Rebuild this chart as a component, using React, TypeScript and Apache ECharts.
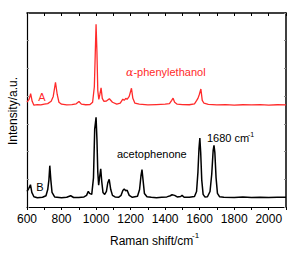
import React, { useEffect, useRef } from "react";
import * as echarts from "echarts";

// Raman shift (cm-1) and intensity (a.u., offset) for α-phenylethanol (A, red)
const alphaShift = [600, 612, 621, 630, 640, 660, 680, 700, 720, 740, 752, 765, 775, 785, 800, 830, 860, 885, 901, 915, 940, 965, 980, 990, 995, 1000, 1005, 1010, 1016, 1022, 1029, 1036, 1045, 1060, 1077, 1095, 1120, 1140, 1155, 1163, 1172, 1180, 1192, 1205, 1213, 1225, 1250, 1300, 1350, 1400, 1425, 1438, 1446, 1455, 1470, 1500, 1540, 1570, 1582, 1590, 1598, 1607, 1615, 1625, 1650, 1700, 1750, 1800, 1850, 1900, 1950, 2000, 2050, 2100];
const alphaIntensity = [54.0, 55.5, 58.4, 54.5, 52.5, 52.8, 52.6, 53.0, 53.3, 54.5, 57.0, 64.3, 58.0, 54.0, 53.0, 52.6, 52.8, 53.2, 54.4, 53.0, 52.7, 52.8, 54.0, 62.0, 78.0, 94.2, 80.0, 60.0, 55.5, 58.0, 61.4, 56.0, 54.5, 54.6, 55.8, 54.0, 53.0, 53.5, 55.6, 55.0, 56.0, 55.5, 57.0, 61.2, 56.0, 53.5, 53.0, 52.6, 52.8, 53.0, 53.3, 55.0, 56.1, 54.0, 53.0, 52.8, 52.7, 53.2, 54.8, 56.0, 58.0, 60.8, 55.0, 53.5, 52.9, 52.6, 52.8, 52.5, 52.7, 52.6, 52.8, 52.5, 52.7, 52.6];

// Acetophenone (B, black)
const acetoShift = [600, 610, 620, 628, 640, 660, 690, 710, 720, 727, 732, 738, 745, 760, 800, 830, 853, 870, 900, 930, 945, 955, 962, 975, 985, 992, 1000, 1005, 1010, 1015, 1020, 1027, 1033, 1040, 1050, 1060, 1068, 1076, 1085, 1095, 1110, 1130, 1145, 1155, 1163, 1172, 1180, 1192, 1210, 1240, 1252, 1260, 1266, 1272, 1280, 1295, 1320, 1350, 1380, 1410, 1430, 1440, 1455, 1470, 1490, 1498, 1510, 1540, 1570, 1582, 1590, 1596, 1601, 1606, 1612, 1620, 1630, 1645, 1660, 1670, 1678, 1683, 1688, 1695, 1703, 1715, 1740, 1800, 1850, 1900, 1950, 2000, 2050, 2100];
const acetoIntensity = [8.1, 9.5, 11.5, 7.5, 5.3, 4.8, 5.0, 5.8, 9.0, 14.0, 21.3, 14.0, 7.5, 5.2, 4.8, 5.0, 5.8, 4.9, 4.9, 5.2, 6.0, 8.1, 7.0, 6.5, 15.0, 40.0, 46.2, 35.0, 18.0, 11.2, 15.0, 19.7, 13.0, 7.5, 6.5, 8.0, 12.5, 14.3, 9.0, 6.0, 5.2, 5.0, 6.0, 8.5, 9.3, 8.4, 8.6, 6.0, 5.0, 5.5, 9.0, 16.0, 19.3, 14.0, 7.0, 5.3, 5.0, 4.8, 5.0, 5.2, 5.8, 6.3, 6.0, 5.2, 5.4, 6.0, 5.0, 5.0, 5.4, 8.0, 18.0, 30.0, 35.6, 28.0, 14.0, 6.5, 5.2, 5.3, 8.0, 17.0, 29.0, 31.8, 28.0, 15.0, 7.0, 5.3, 5.0, 4.9, 5.1, 4.9, 5.0, 4.9, 5.0, 5.0];

const xTickLabels = ["600", "800", "1000", "1200", "1400", "1600", "1800", "2000"];

const FONT = "Liberation Sans, Arial, sans-serif";
const RED = "#ff2a2a";

export default function App() {
  const ref = useRef<HTMLDivElement>(null);
  useEffect(() => {
    if (!ref.current) return;
    const chart = echarts.init(ref.current, null, { renderer: "svg" });
    const zip = (xs: number[], ys: number[]) => xs.map((x, i) => [x, ys[i]]);
    const grid = { left: 27, right: 16, top: 13, bottom: 49 };
    chart.setOption({
      animation: false,
      backgroundColor: "#ffffff",
      grid,
      xAxis: [
        {
          type: "value",
          min: 600,
          max: 2100,
          interval: 100,
          position: "bottom",
          axisLine: { show: true, onZero: false, lineStyle: { color: "#000", width: 1.2 } },
          axisTick: { show: true, inside: false, length: 3, lineStyle: { color: "#000" } },
          splitLine: { show: false },
          axisLabel: {
            color: "#000",
            fontFamily: FONT,
            fontSize: 12,
            margin: 6,
            formatter: (v: number) => (xTickLabels.includes(String(v)) ? String(v) : ""),
          },
        },
        {
          type: "value",
          min: 600,
          max: 2100,
          interval: 100,
          position: "top",
          axisLine: { show: true, onZero: false, lineStyle: { color: "#000", width: 1.5 } },
          axisTick: { show: true, inside: true, length: 3, lineStyle: { color: "#000" } },
          axisLabel: { show: false },
          splitLine: { show: false },
        },
      ],
      yAxis: [
        {
          type: "value",
          min: 0,
          max: 100,
          interval: 100 / 7,
          position: "left",
          axisLine: { show: true, onZero: false, lineStyle: { color: "#000", width: 1.2 } },
          axisTick: { show: true, inside: true, length: 2, lineStyle: { color: "#888" } },
          axisLabel: { show: false },
          splitLine: { show: false },
        },
        {
          type: "value",
          min: 0,
          max: 100,
          interval: 100 / 7,
          position: "right",
          axisLine: { show: true, onZero: false, lineStyle: { color: "#000", width: 1.5 } },
          axisTick: { show: true, inside: true, length: 2, lineStyle: { color: "#888" } },
          axisLabel: { show: false },
          splitLine: { show: false },
        },
      ],
      series: [
        {
          type: "line",
          name: "α-phenylethanol",
          data: zip(alphaShift, alphaIntensity),
          showSymbol: false,
          lineStyle: { color: RED, width: 1.3 },
          itemStyle: { color: RED },
        },
        {
          type: "line",
          name: "acetophenone",
          data: zip(acetoShift, acetoIntensity),
          showSymbol: false,
          lineStyle: { color: "#000", width: 1.5 },
          itemStyle: { color: "#000" },
        },
      ],
      graphic: [
        {
          type: "text",
          x: 13,
          y: 111,
          rotation: Math.PI / 2,
          style: {
            text: "Intensity/a.u.",
            font: `12px ${FONT}`,
            fill: "#000",
            textAlign: "center",
            textVerticalAlign: "middle",
          },
        },
        {
          type: "text",
          x: 110,
          y: 241,
          style: { text: "Raman shift/cm", font: `12px ${FONT}`, fill: "#000", textAlign: "left", textVerticalAlign: "middle" },
        },
        {
          type: "text",
          x: 192,
          y: 235,
          style: { text: "-1", font: `8px ${FONT}`, fill: "#000", textAlign: "left", textVerticalAlign: "middle" },
        },
        {
          type: "text",
          x: 42,
          y: 97,
          style: { text: "A", font: `11px ${FONT}`, fill: RED, textAlign: "center", textVerticalAlign: "middle" },
        },
        {
          type: "text",
          x: 126,
          y: 72,
          style: {
            text: "{a|α}-phenylethanol",
            font: `11px ${FONT}`,
            fill: RED,
            textAlign: "left",
            textVerticalAlign: "middle",
            rich: { a: { fontStyle: "italic", fontFamily: "DejaVu Serif, serif", fontSize: 11, fill: RED } },
          },
        },
        {
          type: "text",
          x: 40,
          y: 187,
          style: { text: "B", font: `11px ${FONT}`, fill: "#000", textAlign: "center", textVerticalAlign: "middle" },
        },
        {
          type: "text",
          x: 117,
          y: 154,
          style: { text: "acetophenone", font: `11px ${FONT}`, fill: "#000", textAlign: "left", textVerticalAlign: "middle" },
        },
        {
          type: "text",
          x: 207,
          y: 138,
          style: { text: "1680 cm", font: `11px ${FONT}`, fill: "#000", textAlign: "left", textVerticalAlign: "middle" },
        },
        {
          type: "text",
          x: 248,
          y: 134,
          style: { text: "-1", font: `7px ${FONT}`, fill: "#000", textAlign: "left", textVerticalAlign: "middle" },
        },
      ],
    });
    return () => chart.dispose();
  }, []);
  return <div ref={ref} style={{ position: "absolute", left: 0, top: 0, width: 302, height: 256 }} />;
}
